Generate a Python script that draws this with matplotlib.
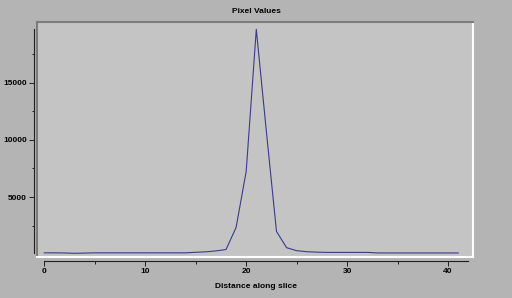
import numpy as np
import matplotlib
matplotlib.use("Agg")
import matplotlib.pyplot as plt
from matplotlib.ticker import MultipleLocator

# profile values
distance = list(range(42))
pixel_values = [130, 130, 120, 90, 110, 130, 130, 130, 130, 130,
                130, 130, 130, 130, 130, 180, 220, 300, 420, 2350,
                7250, 19650, 10700, 2000, 580, 320, 230, 190, 170, 170,
                170, 170, 170, 120, 120, 120, 120, 120, 120, 120,
                120, 120]

title = "Pixel Values"
xlabel = "Distance along slice"

W, H = 512, 298
plt.rcParams['font.family'] = ['Liberation Sans', 'DejaVu Sans']
plt.rcParams['font.weight'] = 'bold'
plt.rcParams['font.size'] = 6

fig = plt.figure(figsize=(W / 100, H / 100), dpi=100)
fig.patch.set_facecolor("#b4b4b4")


def px_rect(x0, y0, x1, y1):
    # pixel box (top-left origin) -> figure fraction
    return [x0 / W, 1 - y1 / H, (x1 - x0) / W, (y1 - y0) / H]


ymin, ymax = min(pixel_values), max(pixel_values)
# axis extents in pixels
yax_top, yax_bot = 29.3, 253.3
xax_left, xax_right = 44.3, 468.3
xmax_axis = 42
ppu_y = (yax_bot - yax_top) / (ymax - ymin)
ppu_x = (xax_right - xax_left) / xmax_axis

# plot area
pl, pt, pr, pb = 37, 22, 473, 257.3
ax = fig.add_axes(px_rect(pl, pt, pr, pb))
ax.set_facecolor("#c4c4c4")
ax.plot(distance, pixel_values, color="#3a3a8a", lw=0.8)
ax.set_xlim(-(xax_left - pl) / ppu_x, (pr - xax_left) / ppu_x)
ax.set_ylim(ymin - (pb - yax_bot) / ppu_y, ymax + (yax_top - pt) / ppu_y)
ax.set_xticks([])
ax.set_yticks([])
for s in ["top", "left"]:
    ax.spines[s].set_color("#7c7c7c")
    ax.spines[s].set_linewidth(1.5)
for s in ["bottom", "right"]:
    ax.spines[s].set_color("white")
    ax.spines[s].set_linewidth(1.5)

# separate y axis
axy = fig.add_axes(px_rect(34, yax_top, 35, yax_bot))
axy.patch.set_visible(False)
axy.set_ylim(ymin, ymax)
axy.set_xticks([])
for s in ["top", "right", "bottom"]:
    axy.spines[s].set_visible(False)
axy.spines["left"].set_color("#202020")
axy.spines["left"].set_linewidth(0.8)
axy.yaxis.set_major_locator(MultipleLocator(5000))
axy.yaxis.set_minor_locator(MultipleLocator(2500))
axy.tick_params(axis="y", which="major", length=3.4, width=0.7, pad=1.8,
                color="#202020", labelsize=6)
axy.tick_params(axis="y", which="minor", length=1.6, width=0.7, color="#202020")

# separate x axis
axx = fig.add_axes(px_rect(xax_left, 260, xax_right, 261))
axx.patch.set_visible(False)
axx.set_xlim(0, xmax_axis)
axx.set_yticks([])
for s in ["top", "right", "left"]:
    axx.spines[s].set_visible(False)
axx.spines["bottom"].set_color("#202020")
axx.spines["bottom"].set_linewidth(0.8)
axx.xaxis.set_major_locator(MultipleLocator(10))
axx.xaxis.set_minor_locator(MultipleLocator(5))
axx.tick_params(axis="x", which="major", length=3.6, width=0.7, pad=1.5,
                color="#202020", labelsize=6)
axx.tick_params(axis="x", which="minor", length=1.8, width=0.7, color="#202020")

fig.text(256 / W, 1 - 11.5 / H, title, ha="center", va="center", fontsize=6,
         fontweight="bold")
fig.text(256 / W, 1 - 286 / H, xlabel, ha="center", va="center", fontsize=6,
         fontweight="bold")

fig.savefig("out.png", dpi=100, facecolor=fig.get_facecolor())
